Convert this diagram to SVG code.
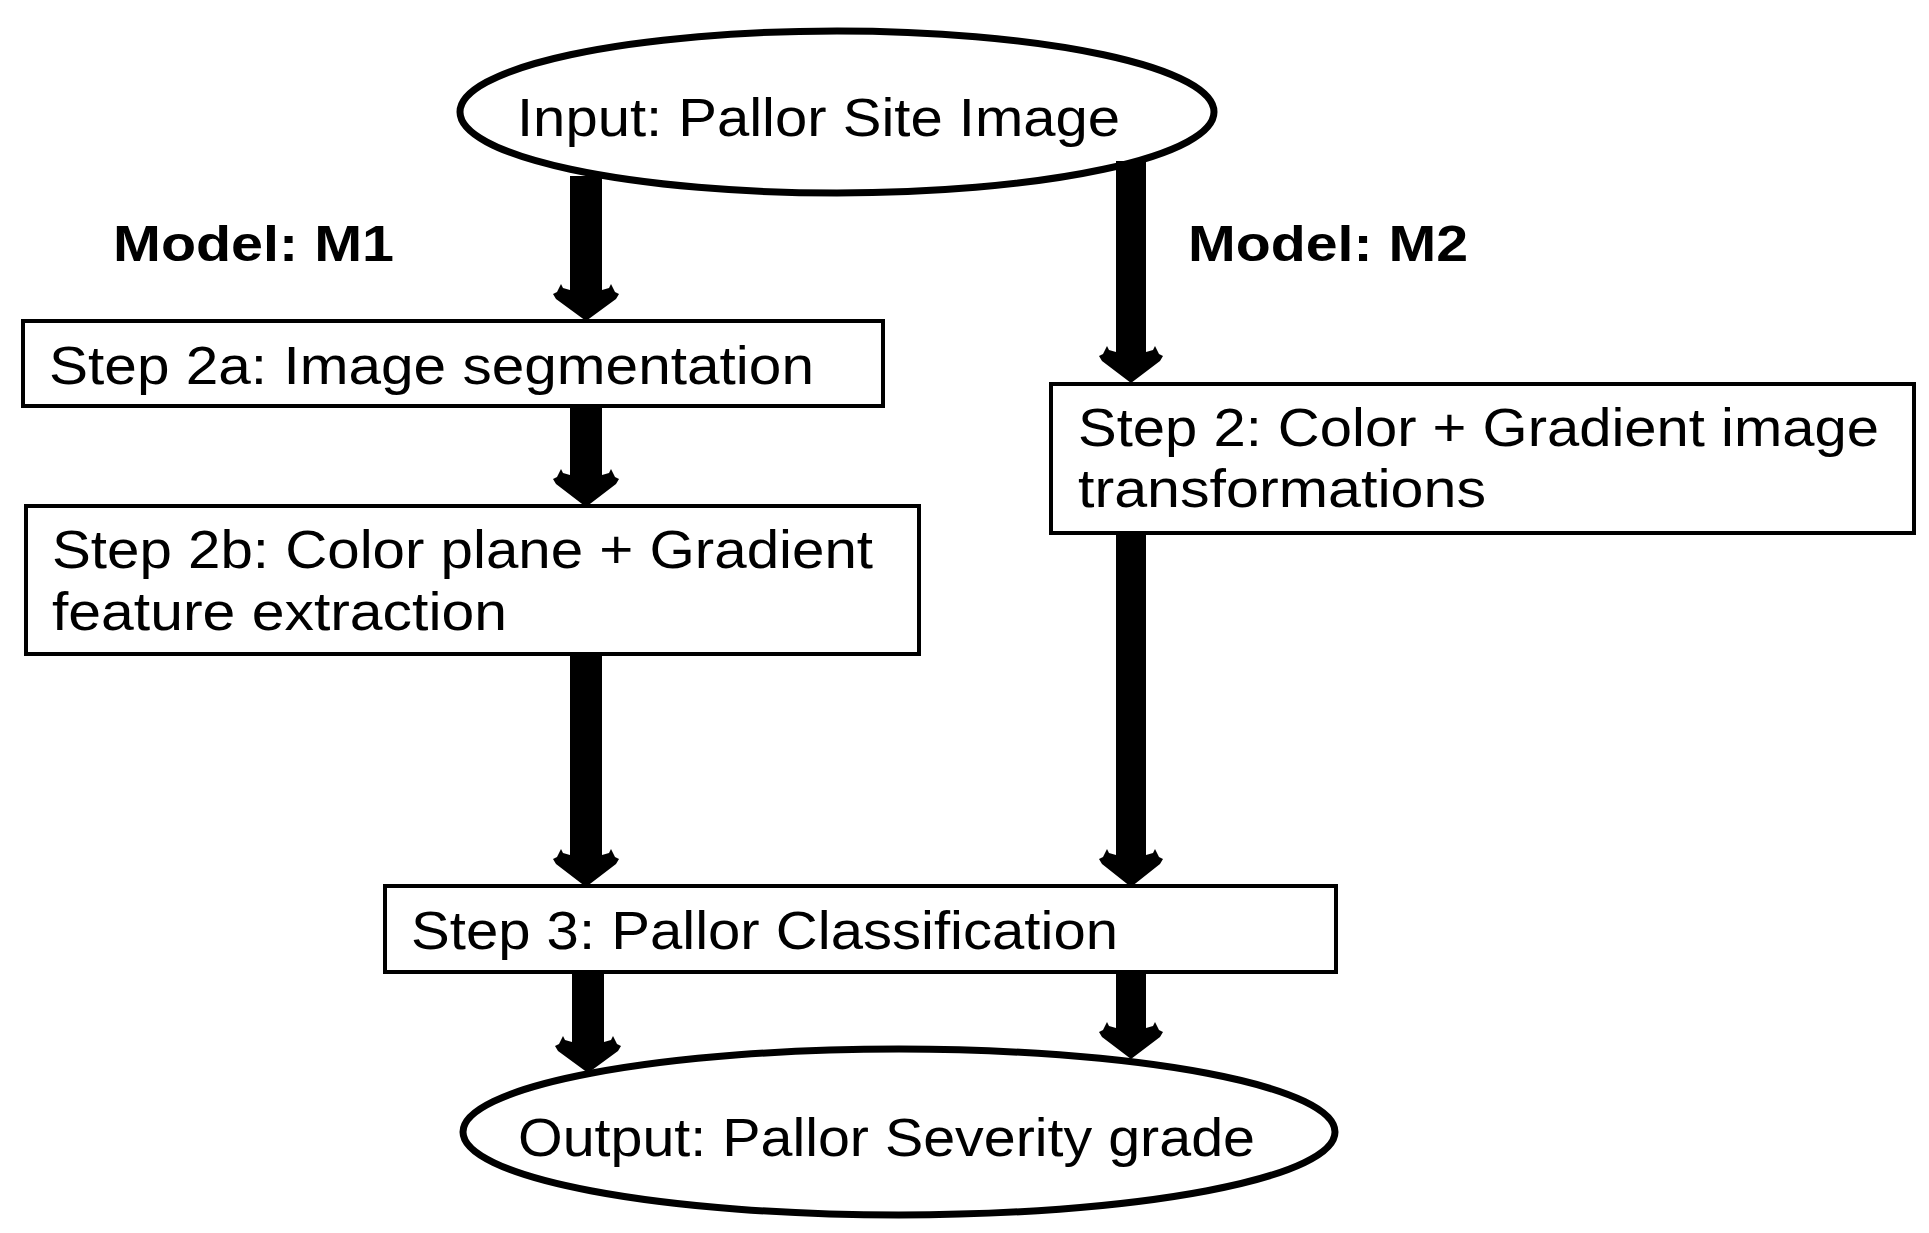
<svg xmlns="http://www.w3.org/2000/svg" width="1929" height="1233" viewBox="0 0 1929 1233">
<style>
.bg{fill:#ffffff}
.ell{fill:#ffffff;stroke:#000;stroke-width:7}
.box{fill:#ffffff;stroke:#000;stroke-width:4}
.t{font-family:"Liberation Sans",Arial,sans-serif;font-size:53px;fill:#000}
.b{font-family:"Liberation Sans",Arial,sans-serif;font-size:50px;font-weight:bold;fill:#000}
.arr{fill:#000}
</style>
<rect class="bg" x="0" y="0" width="1929" height="1233"/>
<g id="label-m1"><text class="b" x="113" y="261" textLength="281" lengthAdjust="spacingAndGlyphs">Model: M1</text></g>
<g id="label-m2"><text class="b" x="1188" y="261" textLength="280" lengthAdjust="spacingAndGlyphs">Model: M2</text></g>
<g id="input">
<ellipse class="ell" cx="837" cy="112" rx="377" ry="81"/>
<text class="t" x="517" y="136" textLength="603" lengthAdjust="spacingAndGlyphs">Input: Pallor Site Image</text>
</g>
<g id="step2a">
<rect class="box" x="23" y="321" width="860" height="85"/>
<text class="t" x="49" y="384" textLength="765" lengthAdjust="spacingAndGlyphs">Step 2a: Image segmentation</text>
</g>
<g id="step2b">
<rect class="box" x="26" y="506" width="893" height="148"/>
<text class="t" x="52" y="568" textLength="821" lengthAdjust="spacingAndGlyphs">Step 2b: Color plane + Gradient</text>
<text class="t" x="52" y="630" textLength="455" lengthAdjust="spacingAndGlyphs">feature extraction</text>
</g>
<g id="step2">
<rect class="box" x="1051" y="384" width="863" height="149"/>
<text class="t" x="1078" y="446" textLength="801" lengthAdjust="spacingAndGlyphs">Step 2: Color + Gradient image</text>
<text class="t" x="1078" y="507" textLength="408" lengthAdjust="spacingAndGlyphs">transformations</text>
</g>
<g id="step3">
<rect class="box" x="385" y="886" width="951" height="86"/>
<text class="t" x="411" y="949" textLength="707" lengthAdjust="spacingAndGlyphs">Step 3: Pallor Classification</text>
</g>
<g id="output">
<ellipse class="ell" cx="899" cy="1132" rx="436" ry="83"/>
<text class="t" x="518" y="1156" textLength="737" lengthAdjust="spacingAndGlyphs">Output: Pallor Severity grade</text>
</g>
<g id="connectors">
<!-- input -> step2a -->
<polygon class="arr" points="570,176 570,290 563,288 561,284 557,292 553,294 556,299 586,321 616,299 619,294 615,292 611,284 609,288 602,290 602,176"/>
<!-- input -> step2 -->
<polygon class="arr" points="1116,161 1116,352 1109,350 1107,346 1103,354 1099,356 1102,361 1131,383 1160,361 1163,356 1159,354 1155,346 1153,350 1146,352 1146,161"/>
<!-- step2a -> step2b -->
<polygon class="arr" points="570,406 570,475 563,473 561,469 557,477 553,479 556,484 586,507 616,484 619,479 615,477 611,469 609,473 602,475 602,406"/>
<!-- step2b -> step3 -->
<polygon class="arr" points="570,654 570,855 563,853 561,849 557,857 553,859 556,864 586,887 616,864 619,859 615,857 611,849 609,853 602,855 602,654"/>
<!-- step2 -> step3 -->
<polygon class="arr" points="1116,533 1116,855 1109,853 1107,849 1103,857 1099,859 1102,864 1131,887 1160,864 1163,859 1159,857 1155,849 1153,853 1146,855 1146,533"/>
<!-- step3 -> output (left) -->
<polygon class="arr" points="572,972 572,1042 565,1040 563,1036 559,1044 555,1046 558,1051 588,1073 618,1051 621,1046 617,1044 613,1036 611,1040 604,1042 604,972"/>
<!-- step3 -> output (right) -->
<polygon class="arr" points="1116,972 1116,1028 1109,1026 1107,1022 1103,1030 1099,1032 1102,1037 1131,1059 1160,1037 1163,1032 1159,1030 1155,1022 1153,1026 1146,1028 1146,972"/>
</g>
</svg>
